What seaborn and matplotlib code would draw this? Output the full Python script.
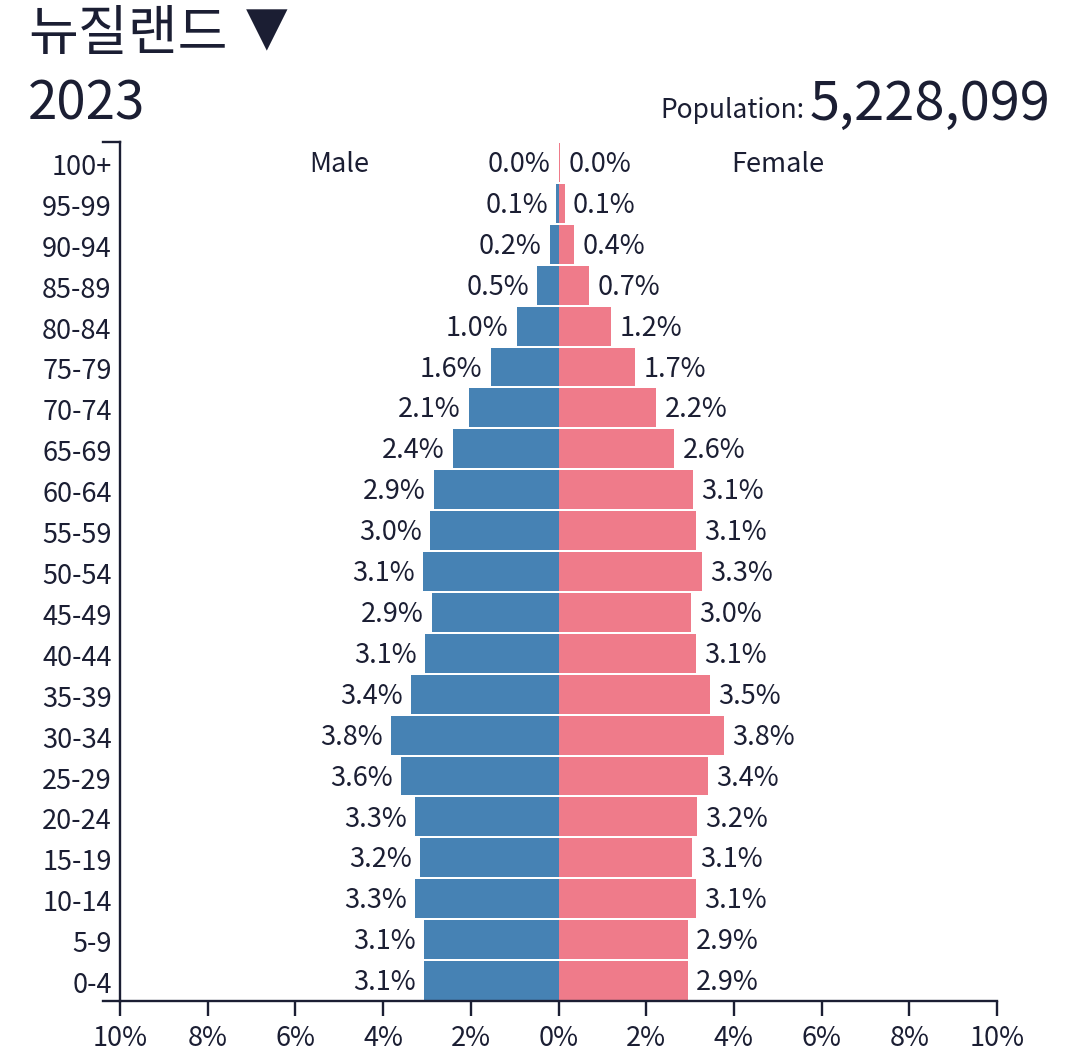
import pandas as pd
import matplotlib.pyplot as plt
import seaborn as sns
from matplotlib.lines import Line2D
from matplotlib.transforms import ScaledTranslation


ages = ["100+", "95-99", "90-94", "85-89", "80-84", "75-79", "70-74", "65-69",
        "60-64", "55-59", "50-54", "45-49", "40-44", "35-39", "30-34", "25-29",
        "20-24", "15-19", "10-14", "5-9", "0-4"]

male = [0.0, 0.05, 0.2, 0.48, 0.95, 1.55, 2.05, 2.41, 2.84, 2.93, 3.09, 2.89,
        3.05, 3.36, 3.82, 3.59, 3.27, 3.16, 3.27, 3.07, 3.07]
female = [0.03, 0.14, 0.36, 0.7, 1.2, 1.75, 2.23, 2.64, 3.07, 3.14, 3.27, 3.02,
          3.14, 3.45, 3.77, 3.41, 3.16, 3.05, 3.14, 2.95, 2.95]

male_labels = ["0.0%", "0.1%", "0.2%", "0.5%", "1.0%", "1.6%", "2.1%", "2.4%",
               "2.9%", "3.0%", "3.1%", "2.9%", "3.1%", "3.4%", "3.8%", "3.6%",
               "3.3%", "3.2%", "3.3%", "3.1%", "3.1%"]
female_labels = ["0.0%", "0.1%", "0.4%", "0.7%", "1.2%", "1.7%", "2.2%", "2.6%",
                 "3.1%", "3.1%", "3.3%", "3.0%", "3.1%", "3.5%", "3.8%", "3.4%",
                 "3.2%", "3.1%", "3.1%", "2.9%", "2.9%"]

xticks = [-10, -8, -6, -4, -2, 0, 2, 4, 6, 8, 10]

country = "뉴질랜드"
year = "2023"
population = "5,228,099"

INK = "#1b1e33"
BLUE = "#4682b4"
PINK = "#ef7b8a"
FS = 19.5

sns.set_style("white")
plt.rcParams['font.family'] = ['Noto Sans CJK KR', 'DejaVu Sans']

df = pd.DataFrame({
    "age": ages * 2,
    "value": [-m for m in male] + female,
    "sex": ["Male"] * len(ages) + ["Female"] * len(ages),
})

fig = plt.figure(figsize=(10.8, 10.52), dpi=100)
ax = fig.add_axes([120 / 1080, 1 - 1001 / 1052, 877 / 1080, 859 / 1052])

sns.barplot(data=df, x="value", y="age", hue="sex", order=ages, dodge=False,
            width=0.95, saturation=1, palette={"Male": BLUE, "Female": PINK},
            linewidth=0, legend=False, ax=ax)

ax.set_xlim(-10, 10)
ax.set_ylim(len(ages) - 0.5, -0.5)
ax.set_xlabel("")
ax.set_ylabel("")

ax.set_xticks(xticks)
ax.set_xticklabels([f"{abs(t)}%" for t in xticks])
ax.tick_params(axis="x", bottom=True, length=11, width=1.7, color=INK, pad=6,
               labelsize=FS, labelcolor=INK)
ax.tick_params(axis="y", left=False, length=0, pad=6, labelsize=FS, labelcolor=INK)

for s in ["top", "right"]:
    ax.spines[s].set_visible(False)
for s in ["left", "bottom"]:
    ax.spines[s].set_color(INK)
    ax.spines[s].set_linewidth(1.7)

# small outer stubs of the y axis
stub = 17 / 877
for yy in (0, 1):
    ax.add_line(Line2D([-stub, 0], [yy, yy], transform=ax.transAxes,
                       color=INK, lw=1.7, clip_on=False,
                       solid_capstyle="projecting"))

shift = ScaledTranslation(0, -2 / 100, fig.dpi_scale_trans)
for lab in ax.get_yticklabels():
    lab.set_transform(lab.get_transform() + shift)

for i, (m, f) in enumerate(zip(male, female)):
    ax.annotate(male_labels[i], (-m, i), xytext=(-6, -1.5), textcoords="offset points",
                ha="right", va="center", fontsize=FS, color=INK)
    ax.annotate(female_labels[i], (f, i), xytext=(6, -1.5), textcoords="offset points",
                ha="left", va="center", fontsize=FS, color=INK)

ax.annotate("Male", (-5, 0), xytext=(0, -1.5), textcoords="offset points",
            ha="center", va="center", fontsize=FS, color=INK)
ax.annotate("Female", (5, 0), xytext=(0, -1.5), textcoords="offset points",
            ha="center", va="center", fontsize=FS, color=INK)

fig.text(28 / 1080, 1 - 50 / 1052, country, ha="left", va="baseline",
         fontsize=39, color=INK)
fig.text(246 / 1080, 1 - 44 / 1052, "▼", ha="left", va="baseline",
         fontsize=39, color=INK, family="DejaVu Sans")
fig.text(28 / 1080, 1 - 120 / 1052, year, ha="left", va="baseline",
         fontsize=38, color=INK)
fig.text(1050 / 1080, 1 - 120 / 1052, population, ha="right", va="baseline",
         fontsize=39, color=INK)
fig.text(804 / 1080, 1 - 118 / 1052, "Population:", ha="right", va="baseline",
         fontsize=19, color=INK)

fig.savefig("out.png", dpi=100)
